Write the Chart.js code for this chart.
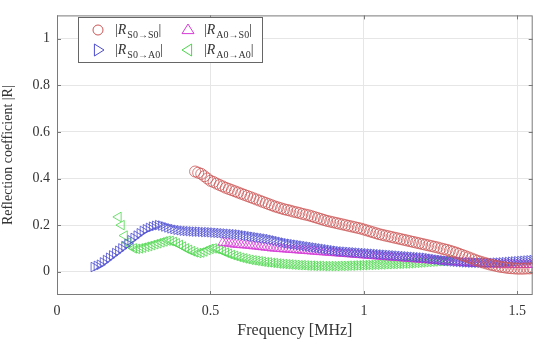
<!DOCTYPE html>
<html lang="en">
<head>
<meta charset="utf-8">
<script src="https://cdn.jsdelivr.net/npm/chart.js@4.4.1/dist/chart.umd.min.js"></script>
<style>
  html, body { margin: 0; padding: 0; background: #fff; }
  #wrap { width: 539px; height: 340px; position: relative; }
</style>
</head>
<body>
<div id="wrap"><canvas id="myChart" width="539" height="340"></canvas></div>
<script>
    // frequency grid is 0.01 MHz, each series starts at its own frequency
    const freqStep = 0.01;
    const startS0S0 = 0.45;
    const startS0A0 = 0.12;
    const startA0S0 = 0.54;
    const startA0A0 = 0.20;

    // |R S0->S0| (red circles)
    const rS0S0 = [
        0.43, 0.425, 0.42, 0.41, 0.40, 0.39, 0.385, 0.378, 0.372, 0.366,
        0.36, 0.355, 0.35, 0.345, 0.34, 0.335, 0.33, 0.325, 0.32, 0.315,
        0.31, 0.305, 0.30, 0.295, 0.29, 0.285, 0.28, 0.276, 0.272, 0.268,
        0.265, 0.262, 0.258, 0.255, 0.252, 0.248, 0.245, 0.242, 0.238, 0.234,
        0.23, 0.226, 0.222, 0.218, 0.215, 0.212, 0.209, 0.206, 0.203, 0.2,
        0.197, 0.194, 0.191, 0.188, 0.185, 0.181, 0.177, 0.173, 0.169, 0.165,
        0.161, 0.158, 0.155, 0.152, 0.149, 0.146, 0.143, 0.14, 0.137, 0.134,
        0.131, 0.128, 0.125, 0.122, 0.119, 0.116, 0.113, 0.11, 0.107, 0.104,
        0.1, 0.097, 0.094, 0.09, 0.086, 0.082, 0.077, 0.072, 0.067, 0.062,
        0.057, 0.052, 0.047, 0.043, 0.039, 0.035, 0.031, 0.028, 0.025, 0.022,
        0.02, 0.018, 0.016, 0.015, 0.014, 0.013, 0.013, 0.013, 0.014, 0.014,
        0.015
    ];

    // |R S0->A0| (blue right triangles)
    const rS0A0 = [
        0.02, 0.025, 0.03, 0.04, 0.05, 0.06, 0.07, 0.08, 0.09, 0.10,
        0.11, 0.12, 0.135, 0.145, 0.155, 0.165, 0.175, 0.182, 0.188, 0.193,
        0.197, 0.2, 0.198, 0.194, 0.19, 0.186, 0.183, 0.18, 0.178, 0.176,
        0.175, 0.174, 0.173, 0.172, 0.172, 0.171, 0.17, 0.17, 0.169, 0.168,
        0.167, 0.166, 0.165, 0.164, 0.163, 0.162, 0.161, 0.16, 0.158, 0.156,
        0.154, 0.152, 0.15, 0.148, 0.146, 0.144, 0.142, 0.14, 0.137, 0.134,
        0.131, 0.128, 0.125, 0.122, 0.12, 0.118, 0.116, 0.114, 0.112, 0.11,
        0.108, 0.106, 0.104, 0.102, 0.1, 0.098, 0.096, 0.094, 0.092, 0.09,
        0.088, 0.087, 0.086, 0.085, 0.084, 0.083, 0.082, 0.081, 0.08, 0.079,
        0.078, 0.077, 0.076, 0.075, 0.074, 0.073, 0.072, 0.071, 0.07, 0.069,
        0.068, 0.067, 0.066, 0.065, 0.064, 0.063, 0.062, 0.061, 0.06, 0.058,
        0.056, 0.054, 0.052, 0.05, 0.048, 0.046, 0.045, 0.044, 0.043, 0.042,
        0.041, 0.04, 0.04, 0.039, 0.039, 0.038, 0.038, 0.038, 0.038, 0.038,
        0.038, 0.039, 0.039, 0.04, 0.041, 0.042, 0.043, 0.044, 0.045, 0.046,
        0.047, 0.048, 0.049, 0.05
    ];

    // |R A0->S0| (magenta up triangles)
    const rA0S0 = [
        0.125, 0.123, 0.121, 0.119, 0.117, 0.116, 0.115, 0.114, 0.113, 0.112,
        0.11, 0.109, 0.107, 0.106, 0.104, 0.103, 0.101, 0.1, 0.099, 0.098,
        0.097, 0.096, 0.095, 0.094, 0.093, 0.092, 0.091, 0.09, 0.089, 0.088,
        0.087, 0.086, 0.085, 0.084, 0.083, 0.082, 0.081, 0.08, 0.079, 0.078,
        0.077, 0.076, 0.075, 0.074, 0.073, 0.072, 0.071, 0.07, 0.069, 0.068,
        0.067, 0.066, 0.065, 0.064, 0.063, 0.062, 0.061, 0.06, 0.059, 0.058,
        0.057, 0.056, 0.055, 0.054, 0.053, 0.052, 0.051, 0.05, 0.049, 0.048,
        0.047, 0.046, 0.045, 0.044, 0.043, 0.042, 0.041, 0.04, 0.039, 0.038,
        0.037, 0.036, 0.035, 0.035, 0.034, 0.034, 0.033, 0.033, 0.032, 0.032,
        0.032, 0.031, 0.031, 0.031, 0.03, 0.03, 0.03, 0.03, 0.03, 0.03,
        0.03, 0.03
    ];

    // |R A0->A0| (green left triangles)
    const rA0A0 = [
        0.235, 0.2, 0.155, 0.125, 0.11, 0.1, 0.098, 0.1, 0.103, 0.107,
        0.11, 0.114, 0.118, 0.122, 0.126, 0.13, 0.133, 0.132, 0.128, 0.122,
        0.115, 0.108, 0.1, 0.094, 0.088, 0.083, 0.08, 0.082, 0.087, 0.093,
        0.098, 0.1, 0.098, 0.094, 0.088, 0.082, 0.077, 0.072, 0.068, 0.064,
        0.06, 0.057, 0.054, 0.051, 0.049, 0.047, 0.045, 0.043, 0.041, 0.04,
        0.038, 0.037, 0.035, 0.034, 0.033, 0.032, 0.031, 0.03, 0.029, 0.028,
        0.028, 0.027, 0.026, 0.026, 0.025, 0.025, 0.025, 0.024, 0.024, 0.024,
        0.024, 0.024, 0.025, 0.025, 0.025, 0.026, 0.026, 0.027, 0.027, 0.028,
        0.028, 0.029, 0.029, 0.03, 0.03, 0.031, 0.031, 0.032, 0.032, 0.033,
        0.033, 0.034, 0.034, 0.035, 0.035, 0.036, 0.037, 0.038, 0.039, 0.04,
        0.041, 0.042, 0.043, 0.044, 0.045, 0.046, 0.047, 0.048, 0.05
    ];

    const xTicks = [0, 0.5, 1, 1.5];
    const yTicks = [0, 0.2, 0.4, 0.6, 0.8, 1];

    const serif = "'Liberation Serif', 'DejaVu Serif', serif";
    const RED = 'rgb(205, 85, 85)';
    const BLUE = 'rgb(75, 75, 210)';
    const MAGENTA = 'rgb(215, 60, 215)';
    const GREEN = 'rgb(75, 215, 75)';

    function toPoints(start, values) {
        return values.map(function (v, i) {
            return { x: +(start + i * freqStep).toFixed(2), y: v };
        });
    }

    function markerSet(label, color, style, rot, start, values) {
        return {
            label: label,
            data: toPoints(start, values),
            showLine: false,
            pointStyle: style,
            rotation: rot,
            pointRadius: style === 'circle' ? 5.5 : 5.5,
            borderColor: color,
            backgroundColor: 'rgba(0,0,0,0)',
            borderWidth: 0.8
        };
    }

    function drawMarker(ctx, kind, color, x, y) {
        ctx.save();
        ctx.strokeStyle = color;
        ctx.lineWidth = 1;
        ctx.beginPath();
        const r = 6;
        if (kind === 'circle') {
            ctx.arc(x, y, 5, 0, Math.PI * 2);
        } else if (kind === 'up') {
            ctx.moveTo(x, y - r); ctx.lineTo(x + r, y + r * 0.6); ctx.lineTo(x - r, y + r * 0.6); ctx.closePath();
        } else if (kind === 'right') {
            ctx.moveTo(x + r, y); ctx.lineTo(x - r * 0.6, y - r); ctx.lineTo(x - r * 0.6, y + r); ctx.closePath();
        } else {
            ctx.moveTo(x - r, y); ctx.lineTo(x + r * 0.6, y - r); ctx.lineTo(x + r * 0.6, y + r); ctx.closePath();
        }
        ctx.stroke();
        ctx.restore();
    }

    function drawLabel(ctx, x, y, sub) {
        ctx.save();
        ctx.fillStyle = '#333';
        ctx.textBaseline = 'alphabetic';
        ctx.font = "14px " + serif;
        ctx.fillText('|', x, y);
        x += ctx.measureText('|').width;
        ctx.font = "italic 14px " + serif;
        ctx.fillText('R', x, y);
        x += ctx.measureText('R').width + 1;
        ctx.font = "10px " + serif;
        ctx.fillText(sub, x, y + 4);
        x += ctx.measureText(sub).width;
        ctx.font = "14px " + serif;
        ctx.fillText('|', x, y);
        ctx.restore();
    }

    // box around the plot and the boxed legend with subscripts
    const framePlugin = {
        id: 'frame',
        afterDatasetsDraw: function (chart) {
            const ctx = chart.ctx;
            const a = chart.chartArea;
            ctx.save();
            ctx.strokeStyle = '#7a7a7a';
            ctx.lineWidth = 1;
            ctx.strokeRect(a.left + 0.5, a.top + 0.5, a.right - a.left - 1, a.bottom - a.top - 1);
            // small inner ticks like the original
            ctx.beginPath();
            xTicks.forEach(function (t) {
                const px = Math.round(chart.scales.x.getPixelForValue(t)) + 0.5;
                ctx.moveTo(px, a.bottom); ctx.lineTo(px, a.bottom - 4);
                ctx.moveTo(px, a.top); ctx.lineTo(px, a.top + 4);
            });
            yTicks.forEach(function (t) {
                const py = Math.round(chart.scales.y.getPixelForValue(t)) + 0.5;
                ctx.moveTo(a.left, py); ctx.lineTo(a.left + 4, py);
                ctx.moveTo(a.right, py); ctx.lineTo(a.right - 4, py);
            });
            ctx.stroke();

            // legend
            const lx = 78, ly = 17, lw = 184, lh = 45;
            ctx.fillStyle = '#fff';
            ctx.fillRect(lx, ly, lw, lh);
            ctx.strokeStyle = '#666';
            ctx.strokeRect(lx + 0.5, ly + 0.5, lw, lh);
            ctx.restore();

            drawMarker(ctx, 'circle', RED, 98, 30);
            drawLabel(ctx, 115, 34, 'S0\u2192S0');
            drawMarker(ctx, 'up', MAGENTA, 188, 30);
            drawLabel(ctx, 204, 34, 'A0\u2192S0');
            drawMarker(ctx, 'right', BLUE, 98, 50);
            drawLabel(ctx, 115, 54, 'S0\u2192A0');
            drawMarker(ctx, 'left', GREEN, 188, 50);
            drawLabel(ctx, 204, 54, 'A0\u2192A0');
        }
    };

    var ctx = document.getElementById('myChart').getContext('2d');
    var myChart = new Chart(ctx, {
        type: 'scatter',
        data: {
            datasets: [
                markerSet('|R S0→S0|', RED, 'circle', 0, startS0S0, rS0S0),
                markerSet('|R S0→A0|', BLUE, 'triangle', 90, startS0A0, rS0A0),
                markerSet('|R A0→S0|', MAGENTA, 'triangle', 0, startA0S0, rA0S0),
                markerSet('|R A0→A0|', GREEN, 'triangle', -90, startA0A0, rA0A0)
            ]
        },
        options: {
            responsive: false,
            animation: false,
            layout: { padding: { top: 6, right: 1, left: 0, bottom: 0 } },
            plugins: {
                legend: { display: false },
                tooltip: { enabled: false }
            },
            scales: {
                x: {
                    type: 'linear',
                    min: 0,
                    max: 1.55,
                    afterBuildTicks: function (s) { s.ticks = xTicks.map(function (v) { return { value: v }; }); },
                    afterFit: function (s) { s.height = 45; },
                    grid: { color: '#e6e6e6', drawTicks: false },
                    border: { display: false },
                    ticks: {
                        padding: 8,
                        color: '#333',
                        maxRotation: 0,
                        font: { family: serif, size: 14 },
                        callback: function (v) { return String(v); }
                    },
                    title: {
                        display: true,
                        text: 'Frequency [MHz]',
                        color: '#333',
                        padding: { top: 0, bottom: 0 },
                        font: { family: serif, size: 16 }
                    }
                },
                y: {
                    min: -0.1,
                    max: 1.1,
                    afterBuildTicks: function (s) { s.ticks = yTicks.map(function (v) { return { value: v }; }); },
                    afterFit: function (s) { s.width = 57; },
                    grid: { color: '#e6e6e6', drawTicks: false },
                    border: { display: false },
                    ticks: {
                        padding: 7,
                        color: '#333',
                        font: { family: serif, size: 14 },
                        callback: function (v) { return String(+v.toFixed(1)); }
                    },
                    title: {
                        display: true,
                        text: 'Reflection coefficient |R|',
                        color: '#333',
                        padding: { top: 0, bottom: 3 },
                        font: { family: serif, size: 14 }
                    }
                }
            }
        },
        plugins: [framePlugin]
    });
</script>
</body>
</html>
